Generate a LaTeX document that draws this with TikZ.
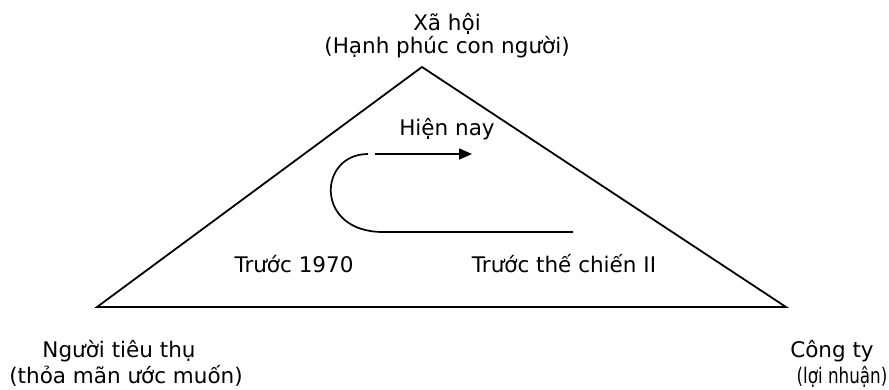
\documentclass[tikz,border=0pt]{standalone}
\usepackage{fontspec}
\usepackage{graphicx}
\setmainfont{DejaVu Sans}
\usetikzlibrary{arrows.meta}
\begin{document}
\begin{tikzpicture}[x=1pt,y=-1pt,
  lbl/.style={anchor=base,inner sep=0pt,font=\fontsize{21.5}{26}\selectfont},
  edge/.style={line width=1.8pt,line join=miter},
  path/.style={line width=1.7pt},
]
\useasboundingbox (0,0) rectangle (889,389);
% triangle vertices
\coordinate (top) at (422,67);
\coordinate (left) at (97,307);
\coordinate (right) at (786,307);
\draw[edge] (top) -- (right) -- (left) -- cycle;
% labels
\node[lbl] (soc1) at (447,30) {Xã hội};
\node[lbl] (soc2) at (447,53) {(Hạnh phúc con người)};
\node[lbl] (con1) at (119,357) {Người tiêu thụ};
\node[lbl] (con2) at (126,383) {(thỏa mãn ước muốn)};
\node[lbl] (com1) at (832,357) {Công ty};
\node[lbl] (com2) at (842,383) {\scalebox{0.78}[1]{(lợi nhuận)}};
\node[lbl] (now) at (447,135) {Hiện nay};
\node[lbl] (b70) at (294,272) {Trước 1970};
\node[lbl] (bww) at (564,272) {Trước thế chiến II};
% evolution path
\coordinate (p0) at (573,232);
\coordinate (p1) at (383,232);
\coordinate (p2) at (368,154);
\coordinate (a0) at (375,154);
\coordinate (a1) at (472,154);
\draw[path] (p0) -- (p1) .. controls (314,232) and (318,154) .. (p2);
\draw[path,-{Triangle[length=13pt,width=11pt]}] (a0) -- (a1);
\end{tikzpicture}
\end{document}
